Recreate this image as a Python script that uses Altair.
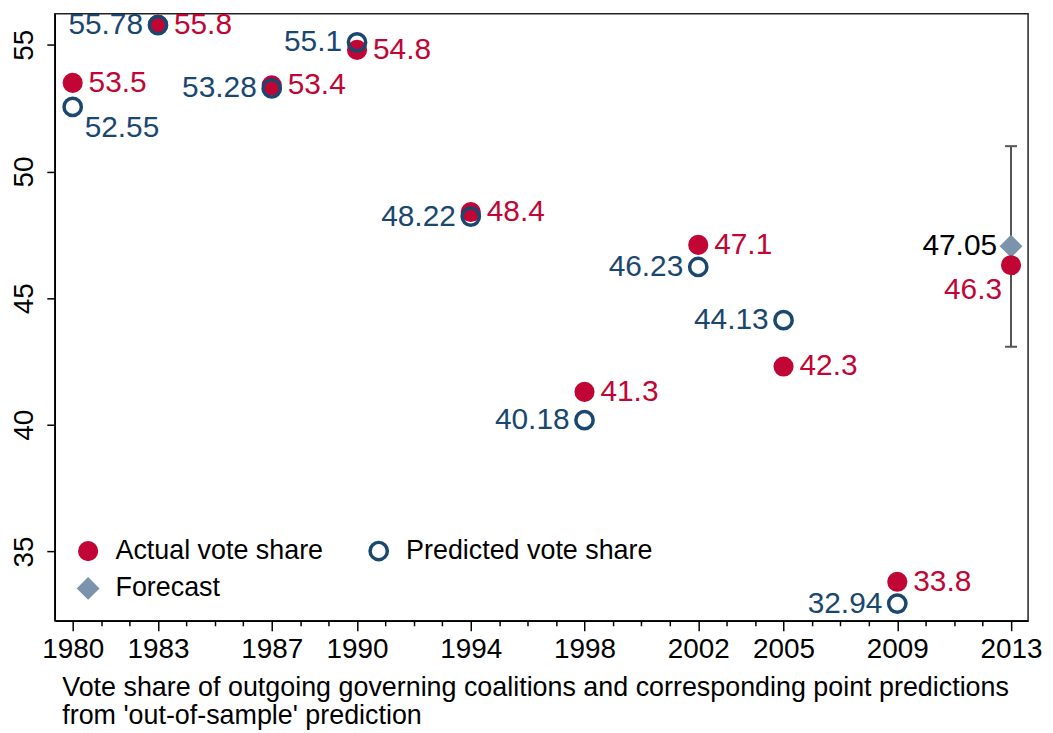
import altair as alt
import pandas as pd

# ---- data ----
years = [1980, 1983, 1987, 1990, 1994, 1998, 2002, 2005, 2009, 2013]
actual = [53.5, 55.8, 53.4, 54.8, 48.4, 41.3, 47.1, 42.3, 33.8, 46.3]
pred_years = [1980, 1983, 1987, 1990, 1994, 1998, 2002, 2005, 2009]
predicted = [52.55, 55.78, 53.28, 55.1, 48.22, 40.18, 46.23, 44.13, 32.94]
forecast_year = [2013]
forecast = [47.05]
ci_low = [43.08]
ci_high = [51.0]
series_names = ["Actual vote share", "Predicted vote share", "Forecast"]
x_title = ["Vote share of outgoing governing coalitions and corresponding point predictions",
           "from 'out-of-sample' prediction"]

RED = "#C10534"
BLUE = "#1A476F"
SLATE = "#7C93AD"
GREY = "#555555"
FONT = "Liberation Sans"

df_act = pd.DataFrame({"year": years, "value": actual, "series": series_names[0],
                       "label": [str(v) for v in actual]})
df_pred = pd.DataFrame({"year": pred_years, "value": predicted, "series": series_names[1],
                        "label": [str(v) for v in predicted]})
df_fc = pd.DataFrame({"year": forecast_year, "value": forecast, "series": series_names[2],
                      "label": [str(v) for v in forecast]})
df_pts = pd.concat([df_fc, df_act, df_pred], ignore_index=True)
df_ci = pd.DataFrame({"year": forecast_year, "low": ci_low, "high": ci_high})
df_caps = pd.DataFrame({"year": forecast_year * 2, "value": ci_low + ci_high})

all_years = list(range(years[0], years[-1] + 1))
test = f"indexof({years}, datum.value) >= 0"

xscale = alt.Scale(domain=[1979.37, 2013.6], nice=False, zero=False)
yscale = alt.Scale(domain=[32.26, 56.23], nice=False, zero=False)

xaxis = alt.Axis(
    values=all_years, format="d",
    labelExpr=f"{test} ? datum.label : ''",
    tickSize={"condition": {"test": test, "value": 10}, "value": 5},
    labelOverlap=False, labelFlush=False,
    labelFontSize=28, labelPadding=5,
    title=x_title, titleFontSize=27, titleFontWeight="normal",
    titleAnchor="start", titleAlign="left", titleX=7, titleY=75,
    titleBaseline="alphabetic", titleLineHeight=28,
    grid=False,
)
yaxis = alt.Axis(
    values=[35, 40, 45, 50, 55], title=None, grid=False,
    labelAngle=270, labelAlign="center", labelBaseline="alphabetic",
    labelFontSize=28, labelPadding=14, tickSize=8,
)

X = alt.X("year:Q", scale=xscale, axis=xaxis)
Y = alt.Y("value:Q", scale=yscale, axis=yaxis)

leg = alt.Legend(
    title=None, orient="none", direction="horizontal", legendX=20, legendY=526, columns=2,
    values=series_names,
    labelFontSize=27, labelFont=FONT, labelColor="black", labelOffset=14,
    labelLimit=500, columnPadding=39, rowPadding=5, symbolStrokeWidth=3.5, padding=0,
)

err = alt.Chart(df_ci).mark_rule(color=GREY, strokeWidth=2).encode(
    x=X, y=alt.Y("low:Q", scale=yscale, axis=yaxis), y2="high:Q")
caps = alt.Chart(df_caps).mark_tick(orient="horizontal", color=GREY, size=12,
                                    thickness=2, opacity=1).encode(x=X, y=Y)

pts = alt.Chart(df_pts).mark_point(strokeWidth=3.5, opacity=1).encode(
    x=X, y=Y,
    fill=alt.Fill("series:N", sort=series_names,
                  scale=alt.Scale(domain=series_names, range=[RED, "transparent", SLATE]), legend=leg),
    stroke=alt.Stroke("series:N", sort=series_names,
                      scale=alt.Scale(domain=series_names, range=[RED, BLUE, SLATE]), legend=leg),
    shape=alt.Shape("series:N", sort=series_names,
                    scale=alt.Scale(domain=series_names, range=["circle", "circle", "diamond"]), legend=leg),
    size=alt.Size("series:N", sort=series_names,
                  scale=alt.Scale(domain=series_names, range=[280, 324, 420]), legend=leg),
)

LBL = 30
t_act = alt.Chart(df_act).transform_filter(f"datum.year != {years[-1]}").mark_text(
    align="left", baseline="middle", dx=16, fontSize=LBL, font=FONT, color=RED).encode(x=X, y=Y, text="label:N")
t_act_last = alt.Chart(df_act).transform_filter(f"datum.year == {years[-1]}").mark_text(
    align="right", baseline="middle", dx=-9, dy=25, fontSize=LBL, font=FONT, color=RED).encode(x=X, y=Y, text="label:N")
t_pred = alt.Chart(df_pred).transform_filter(f"datum.year != {pred_years[0]}").mark_text(
    align="right", baseline="middle", dx=-15, fontSize=LBL, font=FONT, color=BLUE).encode(x=X, y=Y, text="label:N")
t_pred_first = alt.Chart(df_pred).transform_filter(f"datum.year == {pred_years[0]}").mark_text(
    align="left", baseline="middle", dx=12, dy=21, fontSize=LBL, font=FONT, color=BLUE).encode(x=X, y=Y, text="label:N")
t_fc = alt.Chart(df_fc).mark_text(
    align="right", baseline="middle", dx=-14, fontSize=LBL, font=FONT, color="black").encode(x=X, y=Y, text="label:N")

chart = alt.layer(err, caps, pts, t_act, t_act_last, t_pred, t_pred_first, t_fc).properties(
    width=978, height=610,
    autosize=alt.AutoSizeParams(type="none"),
    padding={"left": 47, "top": 4, "right": 17, "bottom": 108},
    background="white",
).configure_view(
    stroke="#222222", strokeWidth=1.5,
).configure_axis(
    labelFont=FONT, titleFont=FONT, labelColor="black", titleColor="black",
    domainColor="black", domainWidth=1.5, tickColor="black", tickWidth=1.5,
).configure_legend(
    labelFont=FONT,
)

chart.save("out.html", embed_options={"renderer": "svg", "actions": False})
